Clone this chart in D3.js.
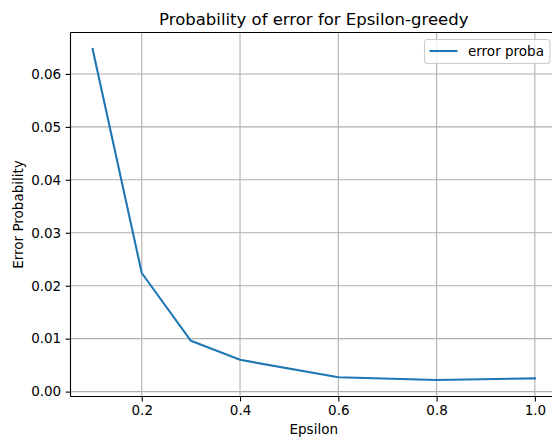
<!DOCTYPE html>
<html>
<head>
<meta charset="utf-8">
<script src="https://cdn.jsdelivr.net/npm/d3@7"></script>
<style>
  html, body { margin: 0; padding: 0; background: #fff; }
  svg { display: block; font-family: "DejaVu Sans", sans-serif; }
</style>
</head>
<body>
<svg id="chart" width="552" height="441"></svg>
<script>
// Epsilon values tested and the measured error probability at each
const epsilons = [0.1, 0.2, 0.3, 0.4, 0.6, 0.8, 1.0];
const errorProba = [0.0647, 0.0224, 0.0096, 0.0060, 0.0027, 0.0022, 0.0025];
const xTicks = [0.2, 0.4, 0.6, 0.8, 1.0];
const yTicks = [0.00, 0.01, 0.02, 0.03, 0.04, 0.05, 0.06];
const seriesName = "error proba";

const svg = d3.select("#chart");
// plot area (right edge runs past the canvas)
const plotL = 70.5, plotR = 557, plotT = 32.5, plotB = 396.5;

// axis limits with a 5% margin around the data
const xMin = d3.min(epsilons), xMax = d3.max(epsilons);
const yMin = d3.min(errorProba), yMax = d3.max(errorProba);
const xPad = (xMax - xMin) * 0.05, yPad = (yMax - yMin) * 0.05;

const x = d3.scaleLinear().domain([xMin - xPad, xMax + xPad]).range([plotL, plotR]);
const y = d3.scaleLinear().domain([yMin - yPad, yMax + yPad]).range([plotB, plotT]);

const tickFont = 13.5;

// grid
const grid = svg.append("g");
grid.selectAll("line.gx").data(xTicks).join("line")
  .attr("x1", d => x(d)).attr("x2", d => x(d))
  .attr("y1", plotT).attr("y2", plotB)
  .attr("stroke", "#b0b0b0").attr("stroke-width", 1.1);
grid.selectAll("line.gy").data(yTicks).join("line")
  .attr("x1", plotL).attr("x2", plotR)
  .attr("y1", d => y(d)).attr("y2", d => y(d))
  .attr("stroke", "#b0b0b0").attr("stroke-width", 1.1);

// data line
const line = d3.line().x((d, i) => x(epsilons[i])).y(d => y(d));
svg.append("path").datum(errorProba)
  .attr("d", line)
  .attr("fill", "none")
  .attr("stroke", "#1f77b4")
  .attr("stroke-width", 2.1)
  .attr("stroke-linejoin", "round")
  .attr("stroke-linecap", "square");

// axes
const xAxis = d3.axisBottom(x).tickValues(xTicks).tickFormat(d3.format(".1f"))
  .tickSize(4.9).tickPadding(4.0);
const yAxis = d3.axisLeft(y).tickValues(yTicks).tickFormat(d3.format(".2f"))
  .tickSize(4.9).tickPadding(4.4);

const gx = svg.append("g").attr("transform", `translate(0,${plotB})`).call(xAxis);
const gy = svg.append("g").attr("transform", `translate(${plotL},0)`).call(yAxis);
[gx, gy].forEach(g => {
  g.select(".domain").remove();
  g.selectAll(".tick line").attr("stroke", "#000").attr("stroke-width", 1.1);
  g.selectAll(".tick text").attr("fill", "#000")
    .style("font-family", "DejaVu Sans").style("font-size", tickFont + "px");
});

// spines
const spines = svg.append("g").attr("stroke", "#000").attr("stroke-width", 1.1).attr("fill", "none");
spines.append("line").attr("x1", plotL).attr("x2", plotL).attr("y1", plotT).attr("y2", plotB);
spines.append("line").attr("x1", plotL).attr("x2", plotR).attr("y1", plotB).attr("y2", plotB);
spines.append("line").attr("x1", plotL).attr("x2", plotR).attr("y1", plotT).attr("y2", plotT);
spines.append("line").attr("x1", plotR).attr("x2", plotR).attr("y1", plotT).attr("y2", plotB);

// title and axis labels
svg.append("text")
  .attr("x", (plotL + plotR) / 2).attr("y", plotT - 8)
  .attr("text-anchor", "middle")
  .style("font-size", "16.5px")
  .text("Probability of error for Epsilon-greedy");

svg.append("text")
  .attr("x", (plotL + plotR) / 2).attr("y", 433.5)
  .attr("text-anchor", "middle")
  .style("font-size", tickFont + "px")
  .text("Epsilon");

svg.append("text")
  .attr("transform", `translate(23,${(plotT + plotB) / 2}) rotate(-90)`)
  .attr("text-anchor", "middle")
  .style("font-size", tickFont + "px")
  .text("Error Probability");

// legend
const lg = svg.append("g");
lg.append("rect")
  .attr("x", 424.5).attr("y", 39.5).attr("width", 125.5).attr("height", 24)
  .attr("rx", 3).attr("ry", 3)
  .attr("fill", "#fff").attr("fill-opacity", 0.8)
  .attr("stroke", "#cccccc").attr("stroke-width", 1.1);
lg.append("line")
  .attr("x1", 429.5).attr("x2", 457.5).attr("y1", 51).attr("y2", 51)
  .attr("stroke", "#1f77b4").attr("stroke-width", 2.1);
lg.append("text")
  .attr("x", 468).attr("y", 56)
  .style("font-size", tickFont + "px")
  .text(seriesName);
</script>
</body>
</html>
